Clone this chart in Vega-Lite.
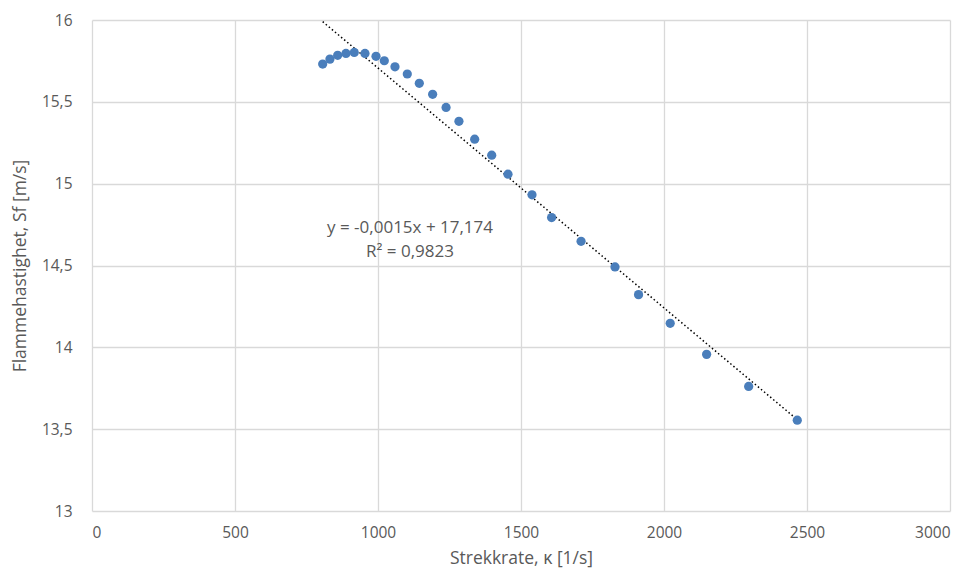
{
  "$schema": "https://vega.github.io/schema/vega-lite/v6.json",
  "width": 858,
  "height": 491,
  "autosize": {"type": "none"},
  "padding": {"left": 92, "top": 20, "right": 22, "bottom": 68},
  "background": "white",
  "config": {
    "locale": {"number": {"decimal": ",", "thousands": "", "grouping": [3], "currency": ["", ""]}},
    "font": "Open Sans",
    "view": {"stroke": null},
    "axis": {
      "gridColor": "#d9d9d9",
      "gridWidth": 1.3,
      "domain": false,
      "ticks": false,
      "labelColor": "#595959",
      "titleColor": "#595959",
      "labelFontSize": 15.5,
      "titleFontSize": 17.5,
      "titleFontWeight": "normal",
      "labelFont": "Open Sans",
      "titleFont": "Open Sans",
      "labelOverlap": false
    }
  },
  "data": {
    "values": [
      {"k": 806.6, "s": 15.731},
      {"k": 832, "s": 15.761},
      {"k": 859, "s": 15.784},
      {"k": 888, "s": 15.796},
      {"k": 917, "s": 15.802},
      {"k": 954.5, "s": 15.796},
      {"k": 993, "s": 15.778},
      {"k": 1022, "s": 15.751},
      {"k": 1059.4, "s": 15.714},
      {"k": 1102.4, "s": 15.67},
      {"k": 1144.4, "s": 15.613},
      {"k": 1191, "s": 15.546},
      {"k": 1238, "s": 15.466},
      {"k": 1283, "s": 15.381},
      {"k": 1338, "s": 15.272},
      {"k": 1397.6, "s": 15.174},
      {"k": 1454.5, "s": 15.058},
      {"k": 1538.5, "s": 14.932},
      {"k": 1607, "s": 14.793},
      {"k": 1710, "s": 14.648},
      {"k": 1828.7, "s": 14.491},
      {"k": 1911, "s": 14.322},
      {"k": 2021.7, "s": 14.147},
      {"k": 2149, "s": 13.957},
      {"k": 2296, "s": 13.761},
      {"k": 2466, "s": 13.555}
    ]
  },
  "layer": [
    {
      "transform": [{"regression": "s", "on": "k", "method": "linear"}],
      "mark": {"type": "line", "color": "#000000", "strokeWidth": 1.5, "strokeDash": [1.5, 2.5], "clip": true},
      "encoding": {
        "x": {
          "field": "k",
          "type": "quantitative",
          "scale": {"domain": [0, 3000], "nice": false, "zero": false},
          "axis": {"title": "Strekkrate, κ [1/s]", "values": [0, 500, 1000, 1500, 2000, 2500, 3000], "format": "d", "labelPadding": 14, "titlePadding": 9}
        },
        "y": {
          "field": "s",
          "type": "quantitative",
          "scale": {"domain": [13, 16], "nice": false, "zero": false},
          "axis": {"title": "Flammehastighet, Sf [m/s]", "values": [13, 13.5, 14, 14.5, 15, 15.5, 16], "format": ".1~f", "labelPadding": 20, "titlePadding": 12}
        }
      }
    },
    {
      "mark": {"type": "circle", "size": 85, "color": "#4a7ebb", "opacity": 1},
      "encoding": {
        "x": {"field": "k", "type": "quantitative"},
        "y": {"field": "s", "type": "quantitative"}
      }
    },
    {
      "data": {"values": [{"label": "trend"}]},
      "mark": {"type": "text", "align": "center", "baseline": "middle", "fontSize": 17, "color": "#595959", "lineHeight": 24, "font": "Open Sans"},
      "encoding": {
        "x": {"datum": 1112, "type": "quantitative"},
        "y": {"datum": 14.73, "type": "quantitative"},
        "text": {"value": ["y = -0,0015x + 17,174", "R² = 0,9823"]}
      }
    }
  ]
}
